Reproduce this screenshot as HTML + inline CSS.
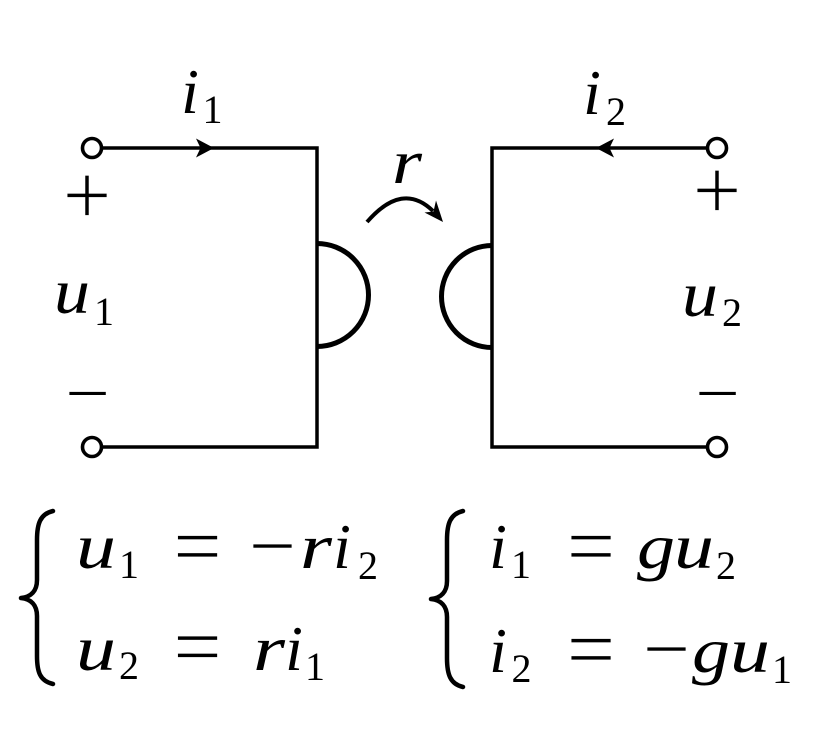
<!DOCTYPE html>
<html>
<head>
<meta charset="utf-8">
<style>
  html,body{margin:0;padding:0;background:#fff;}
  svg{display:block;}
  svg text{font-family:"Liberation Serif","DejaVu Serif","Times New Roman","Times","Nimbus Roman","FreeSerif","Noto Serif CJK SC",serif;fill:#000;}
  svg text.it{font-style:italic;}
  svg text.thin{stroke:#fff;stroke-width:0.8px;}
</style>
</head>
<body>
<svg width="820" height="755" viewBox="0 0 820 755" xmlns="http://www.w3.org/2000/svg">
  <rect width="820" height="755" fill="#fff"/>

  <!-- Left circuit wires -->
  <path d="M101,148 H317 V447 H101" fill="none" stroke="#000" stroke-width="3.5" stroke-linejoin="miter"/>
  <!-- Right circuit wires -->
  <path d="M708,148 H492 V447 H708" fill="none" stroke="#000" stroke-width="3.5" stroke-linejoin="miter"/>

  <!-- Semicircles -->
  <path d="M317,243.5 A51.5,51.5 0 0 1 317,346.5" fill="none" stroke="#000" stroke-width="5"/>
  <path d="M492,245.5 A50.5,51 0 0 0 492,347.5" fill="none" stroke="#000" stroke-width="5"/>

  <!-- Terminals -->
  <circle cx="92" cy="148" r="9.5" fill="#fff" stroke="#000" stroke-width="3.6"/>
  <circle cx="92" cy="447" r="9.5" fill="#fff" stroke="#000" stroke-width="3.6"/>
  <circle cx="717" cy="148" r="9.5" fill="#fff" stroke="#000" stroke-width="3.6"/>
  <circle cx="717" cy="447" r="9.5" fill="#fff" stroke="#000" stroke-width="3.6"/>

  <!-- Current arrowheads -->
  <path d="M214,148 L196,138.5 L200.5,148 L196,157.5 Z" fill="#000"/>
  <path d="M596,148 L614,138.5 L609.5,148 L614,157.5 Z" fill="#000"/>

  <!-- r curved arrow -->
  <path d="M367,222 Q402.5,181 433,211" fill="none" stroke="#000" stroke-width="4"/>
  <path d="M443,222 L436,200.5 L433.5,211.5 L424.5,212.5 Z" fill="#000"/>

  <!-- Circuit labels -->
  <text class="it" x="190" y="113" font-size="64" text-anchor="middle">i</text>
  <text x="212.5" y="123" font-size="40" text-anchor="middle">1</text>

  <text class="it" x="592" y="114" font-size="64" text-anchor="middle">i</text>
  <text x="616" y="125" font-size="40" text-anchor="middle">2</text>

  <text class="it" x="407" y="183" font-size="62" text-anchor="middle" textLength="30" lengthAdjust="spacingAndGlyphs">r</text>

  <text class="it" x="72" y="313" font-size="64" text-anchor="middle" textLength="36" lengthAdjust="spacingAndGlyphs">u</text>
  <text x="104" y="325" font-size="40" text-anchor="middle">1</text>

  <text class="it" x="700" y="316" font-size="64" text-anchor="middle" textLength="36" lengthAdjust="spacingAndGlyphs">u</text>
  <text x="732" y="326" font-size="40" text-anchor="middle">2</text>

  <text class="thin" x="87" y="224" font-size="86" text-anchor="middle">+</text>
  <text class="thin" x="717" y="219" font-size="86" text-anchor="middle">+</text>
  <text class="thin" x="87.5" y="420" font-size="80" text-anchor="middle">−</text>
  <text class="thin" x="717.5" y="420" font-size="80" text-anchor="middle">−</text>

  <!-- Braces -->
  <path d="M53,511 C40,514 37,524 37,540 L37,580 C37,591 31,597 21,598 C31,599 37,605 37,616 L37,656 C37,672 40,681 53,684"
        fill="none" stroke="#000" stroke-width="4.5" stroke-linecap="round" stroke-linejoin="round"/>
  <path d="M463,511 C450,514 447,524 447,540 L447,581 C447,592 441,598 431,599 C441,600 447,606 447,617 L447,658 C447,674 450,684 463,687"
        fill="none" stroke="#000" stroke-width="4.5" stroke-linecap="round" stroke-linejoin="round"/>

  <!-- Left equations line 1: u1 = -r i2 -->
  <text class="it" x="96" y="568" font-size="64" text-anchor="middle" textLength="40" lengthAdjust="spacingAndGlyphs">u</text>
  <text x="129" y="578" font-size="40" text-anchor="middle">1</text>
  <text class="thin" x="197.5" y="575" font-size="86" text-anchor="middle">=</text>
  <text class="thin" x="272.5" y="574" font-size="84" text-anchor="middle">−</text>
  <text class="it" x="316" y="568" font-size="64" text-anchor="middle" textLength="32" lengthAdjust="spacingAndGlyphs">r</text>
  <text class="it" x="342" y="568" font-size="64" text-anchor="middle">i</text>
  <text x="368" y="579" font-size="40" text-anchor="middle">2</text>

  <!-- Left equations line 2: u2 = r i1 -->
  <text class="it" x="96" y="670" font-size="64" text-anchor="middle" textLength="40" lengthAdjust="spacingAndGlyphs">u</text>
  <text x="129" y="679" font-size="40" text-anchor="middle">2</text>
  <text class="thin" x="197.5" y="675.5" font-size="86" text-anchor="middle">=</text>
  <text class="it" x="269" y="670" font-size="64" text-anchor="middle" textLength="32" lengthAdjust="spacingAndGlyphs">r</text>
  <text class="it" x="294" y="670" font-size="64" text-anchor="middle">i</text>
  <text x="315" y="680" font-size="40" text-anchor="middle">1</text>

  <!-- Right equations line 1: i1 = g u2 -->
  <text class="it" x="498" y="568" font-size="64" text-anchor="middle">i</text>
  <text x="521" y="578" font-size="40" text-anchor="middle">1</text>
  <text class="thin" x="591" y="575" font-size="86" text-anchor="middle">=</text>
  <text class="it" x="656" y="568" font-size="64" text-anchor="middle" textLength="38" lengthAdjust="spacingAndGlyphs">g</text>
  <text class="it" x="694" y="568" font-size="64" text-anchor="middle" textLength="40" lengthAdjust="spacingAndGlyphs">u</text>
  <text x="726" y="579" font-size="40" text-anchor="middle">2</text>

  <!-- Right equations line 2: i2 = -g u1 -->
  <text class="it" x="498" y="672" font-size="64" text-anchor="middle">i</text>
  <text x="521.5" y="682" font-size="40" text-anchor="middle">2</text>
  <text class="thin" x="591" y="678" font-size="86" text-anchor="middle">=</text>
  <text class="thin" x="666.5" y="677" font-size="84" text-anchor="middle">−</text>
  <text class="it" x="711" y="672" font-size="64" text-anchor="middle" textLength="38" lengthAdjust="spacingAndGlyphs">g</text>
  <text class="it" x="750" y="672" font-size="64" text-anchor="middle" textLength="40" lengthAdjust="spacingAndGlyphs">u</text>
  <text x="782" y="683" font-size="40" text-anchor="middle">1</text>
</svg>
</body>
</html>
